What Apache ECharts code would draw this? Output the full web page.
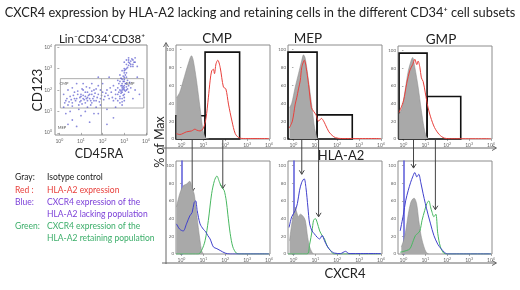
<!DOCTYPE html>
<html>
<head>
<meta charset="utf-8">
<title>CXCR4 expression by HLA-A2</title>
<script src="https://cdn.jsdelivr.net/npm/echarts@6/dist/echarts.min.js"></script>
<style>
  html, body { margin: 0; padding: 0; background: #fff; }
  #chart { width: 520px; height: 290px; }
</style>
</head>
<body>
<div id="chart"></div>
<script>
var FONT = 'Lato, "Open Sans", sans-serif';

// ---- dot plot Lin-CD34+CD38+ (log10 units: CD45RA, CD123) ----
var dotPoints = [
  [0.3,1.5],[0.4,1.3],[0.5,1.7],[0.6,1.4],[0.7,1.9],[0.8,1.6],[0.9,1.3],[1.0,1.8],[1.0,1.5],
  [1.1,2.0],[1.1,1.6],[1.2,1.4],[1.2,1.7],[1.3,1.9],[1.3,1.5],[1.4,1.6],[1.4,2.1],[1.5,1.8],
  [1.5,1.4],[1.6,1.7],[1.6,2.0],[1.7,1.5],[1.8,1.8],[1.8,2.2],[1.9,1.6],[2.0,1.9],[2.1,1.7],
  [2.2,2.0],[2.3,1.6],[2.4,1.9],[0.6,2.1],[0.8,2.3],[0.2,1.8],[0.9,1.1],[1.3,1.2],[1.7,1.2],
  [0.5,1.0],[1.1,2.3],[1.5,2.3],[2.0,2.3],[2.5,2.2],[2.6,1.8],[0.4,2.0],[1.9,1.3],[1.2,1.9],
  [0.7,1.6],[1.0,1.7],[1.4,1.8],[1.6,1.5],[1.3,1.65],[1.15,1.55],[0.95,1.45],[1.55,1.6],
  [0.35,1.6],[0.45,1.45],[0.55,1.55],[0.65,1.75],[0.75,1.5],[0.85,1.8],[0.95,1.65],[1.05,1.35],
  [1.1,1.75],[1.25,1.6],[1.35,1.75],[1.45,1.5],[1.5,1.95],[1.65,1.85],[1.75,1.65],[1.85,1.45],
  [1.95,1.75],[2.05,1.55],[2.15,1.85],[2.25,1.75],[2.35,2.1],[1.05,2.05],[0.85,1.95],[1.25,2.15],
  [0.6,1.25],[1.45,1.3],[2.45,1.65],[0.25,1.4],[1.7,2.05],[1.9,2.0],
  [2.7,1.5],[2.8,1.7],[2.9,1.9],[3.0,2.1],[2.9,2.2],[2.8,2.0],[3.0,1.8],[3.1,2.3],[2.9,2.5],
  [3.0,2.6],[2.8,2.4],[3.1,2.0],[2.7,2.1],[2.9,1.6],[3.0,2.4],[2.8,2.7],[3.0,2.8],[3.1,2.6],
  [2.9,2.9],[2.7,1.8],[2.6,2.0],[2.8,1.4],[3.2,2.2],[2.9,2.0],[3.0,2.0],[2.95,2.15],[2.85,1.95],
  [3.05,2.3],[2.75,2.3],[3.15,2.45],[2.6,1.6],[2.5,1.5],[3.2,1.9],[3.3,2.1],[2.9,1.3],[3.0,1.5],
  [3.1,2.8],[2.95,2.05],[3.0,2.2],[2.9,2.1],
  [2.85,1.85],[2.95,1.75],[3.05,1.95],[2.9,2.3],[3.0,2.5],[2.85,2.2],[2.95,2.4],[3.1,2.15],
  [2.8,1.6],[2.75,1.9],[3.05,2.7],[2.95,2.65],[2.85,2.55],[3.0,1.65],[2.9,1.45],[3.15,2.05],
  [2.7,2.45],[3.25,2.35],[3.0,2.9],[3.1,3.0],
  [3.0,3.0],[3.1,3.2],[3.2,3.3],[3.3,3.2],[3.4,3.4],[3.2,3.5],[3.3,3.1],[3.5,3.3],[3.1,3.4],
  [3.4,3.2],[3.6,3.1],[3.2,3.15],[3.0,3.3],[3.35,3.45],[3.5,3.5],[3.15,3.05],[3.05,2.95],
  [3.25,3.25],[3.3,3.35],[3.45,3.3],[3.2,3.4],[3.4,3.1],
  [0.3,0.9],[0.6,0.6],[1.0,0.8],[1.4,0.5],[0.8,0.3],[1.8,0.9],[2.2,1.1],[0.4,0.4],[1.2,1.0],
  [2.5,0.7],[2.2,0.4],[1.6,0.9],
  [3.5,2.0],[3.7,1.8],[3.4,1.6],[2.3,2.6],[1.8,2.6],[3.6,2.6],[2.6,1.2],[0.2,1.2]
];
// gate rectangle [x0, x1, y0, y1] and CMP/GMP split
var dotGate = [0.05, 3.9, 1.16, 2.53];
var dotSplit = 1.92;

var decades = [0, 1, 2, 3, 4];
var pctTicks = [0, 20, 40, 60, 80, 100];

// ---- HLA-A2 histograms (x in log10 decades, y in % of max) ----
var cmpIso = [[-0.23,46],[-0.08,52],[0.08,65],[0.31,84],[0.46,93],[0.54,88],[0.69,65],[0.85,35],[1.0,8],[1.12,1],[1.25,0]];
var cmpHla = [[-0.23,6],[-0.08,5],[0.23,8],[0.46,9],[0.62,11],[0.69,10],[0.85,9],[1.0,12],[1.12,23],[1.23,46],
  [1.31,65],[1.38,76],[1.46,78],[1.51,73],[1.58,84],[1.66,88],[1.77,80],[1.92,58],[2.03,56],[2.15,39],
  [2.31,20],[2.46,6],[2.62,1.5],[2.85,0.5],[4.0,0.5]];
var mepIso = [[-0.18,35],[-0.08,40],[0.08,58],[0.23,73],[0.38,88],[0.46,94],[0.54,90],[0.69,65],[0.85,35],[0.97,12],[1.08,1.5],[1.15,0]];
var mepHla = [[-0.2,12],[-0.05,20],[0.08,39],[0.15,46],[0.23,56],[0.31,65],[0.38,80],[0.5,88],[0.58,80],[0.69,61],
  [0.82,35],[0.92,31],[1.03,27],[1.15,20],[1.28,23],[1.38,20],[1.46,16],[1.62,8],[1.77,4],[1.92,1.5],[2.2,0.5],[4.0,0.5]];
var gmpIso = [[-0.2,28],[-0.07,35],[0.07,54],[0.22,77],[0.37,90],[0.42,92],[0.52,81],[0.67,59],[0.82,32],[0.94,13],[1.04,3],[1.15,0]];
var gmpHla = [[-0.2,30],[0,43],[0.15,63],[0.3,78],[0.42,84],[0.52,90],[0.61,84],[0.67,88],[0.75,81],[0.82,69],
  [0.9,65],[1.0,52],[1.12,36],[1.24,25],[1.42,13],[1.64,5],[1.87,1],[2.16,0.3],[4.0,0.3]];

// gates [x0, x1, height]
var cmpGates = [[-0.25, 1.08, 26], [1.08, 2.66, 97]];
var mepGates = [[-0.25, 1.08, 97], [1.08, 2.69, 27]];
var gmpGates = [[-0.2, 1.08, 97], [1.08, 2.62, 48]];

// ---- CXCR4 histograms ----
var cmpIso2 = [[-0.23,53],[-0.08,68],[0.08,77],[0.23,79],[0.38,82],[0.49,74],[0.58,68],[0.66,53],[0.77,30],[0.85,15],[0.92,4],[1.0,0]];
var cmpLack = [[-0.23,34],[-0.08,28],[0.08,26],[0.23,34],[0.38,43],[0.49,47],[0.58,58],[0.65,60],[0.72,49],[0.85,34],
  [1.0,28],[1.11,25],[1.2,21],[1.31,17],[1.46,8],[1.62,6],[1.77,4],[2.0,1],[2.23,0],[4.0,0]];
var cmpKeep = [[-0.25,0],[0.77,0],[0.92,4],[1.08,15],[1.23,38],[1.38,68],[1.51,83],[1.62,88],[1.74,81],[1.85,75],
  [1.95,72],[2.05,60],[2.12,45],[2.23,23],[2.35,8],[2.51,1],[2.69,0],[4.0,0]];
var mepIso2 = [[-0.18,15],[-0.08,34],[0,45],[0.08,53],[0.15,47],[0.23,42],[0.31,45],[0.43,43],[0.54,38],[0.65,19],[0.74,8],[0.85,2],[0.92,0]];
var mepLack = [[-0.2,30],[-0.08,42],[0.08,49],[0.18,57],[0.28,72],[0.38,81],[0.49,85],[0.57,75],[0.66,53],[0.74,34],
  [0.85,26],[0.95,23],[1.08,19],[1.2,17],[1.31,21],[1.42,15],[1.54,9],[1.69,4],[1.88,1],[2.15,0.5],[2.38,3],[2.54,0.5],[4.0,0.5]];
var mepKeep = [[-0.25,0],[0.62,0],[0.74,11],[0.85,26],[0.92,38],[1.0,40],[1.08,36],[1.2,26],[1.31,21],[1.42,17],
  [1.54,9],[1.69,4],[1.85,0],[4.0,0]];
var gmpIso2 = [[-0.1,8],[0,15],[0.1,26],[0.22,45],[0.33,58],[0.42,62],[0.49,63],[0.6,57],[0.7,38],[0.82,19],[0.94,8],[1.04,2],[1.15,0]];
var gmpLack = [[-0.15,26],[0,45],[0.1,60],[0.22,72],[0.33,81],[0.42,87],[0.52,92],[0.61,87],[0.7,90],[0.79,81],
  [0.9,68],[1.0,57],[1.12,45],[1.24,34],[1.39,21],[1.57,11],[1.72,6],[1.87,2],[2.01,0],[4.0,0]];
var gmpKeep = [[-0.15,2],[0.15,4],[0.3,6],[0.45,15],[0.55,21],[0.64,23],[0.75,26],[0.85,38],[0.97,49],[1.07,57],
  [1.16,60],[1.24,53],[1.31,47],[1.39,42],[1.48,45],[1.57,23],[1.69,8],[1.84,1],[2.01,0],[4.0,0]];

// arrows from gate to CXCR4 peak: [x decade, tip % of max]
var cmpArrows = [[0.49, 70], [1.89, 74]];
var mepArrows = [[0.38, 90], [1.15, 42]];
var gmpArrows = [[0.46, 97], [1.46, 50]];

var RED = '#e8403c', BLUE = '#4040cc', GREEN = '#48b860', GRAY = '#a9a9a9';

// panel layout: dot plot + 3 top + 3 bottom
var grids = [
  { left: 55, top: 45, width: 92, height: 90 },
  { left: 176, top: 45, width: 94, height: 94 },
  { left: 288, top: 45, width: 94, height: 94 },
  { left: 398, top: 46, width: 94, height: 93 },
  { left: 176, top: 161, width: 94, height: 93 },
  { left: 288, top: 161, width: 94, height: 93 },
  { left: 398, top: 161, width: 94, height: 93 }
].map(function (g) {
  return Object.assign({ show: true, borderColor: '#8c8c8c', borderWidth: 1, backgroundColor: 'rgba(0,0,0,0)' }, g);
});

var decadeLabel = {
  customValues: decades,
  margin: 3,
  formatter: function (v) { return '{b|10}{s|' + v + '}'; },
  rich: {
    b: { fontSize: 5, color: '#666', fontFamily: FONT },
    s: { fontSize: 3.5, color: '#666', fontFamily: FONT, padding: [0, 0, 3, 0] }
  }
};

function xAxisFor(i, min, max) {
  return {
    type: 'value', gridIndex: i, min: min, max: max,
    axisLine: { show: false }, splitLine: { show: false },
    axisTick: { show: true, customValues: decades, length: 2, lineStyle: { color: '#777', width: 0.6 } },
    axisLabel: decadeLabel
  };
}

function yAxisFor(i, lineColor) {
  return {
    type: 'value', gridIndex: i, min: 0, max: 105,
    axisLine: { show: !!lineColor, lineStyle: { color: lineColor, width: 1.5 } },
    splitLine: { show: false },
    axisTick: { show: true, customValues: pctTicks, length: 1.5, lineStyle: { color: '#777', width: 0.6 } },
    axisLabel: { customValues: pctTicks, fontSize: 4.5, color: '#666', margin: 2, fontFamily: FONT }
  };
}

var xAxes = [xAxisFor(0, -0.2, 4.05)];
var yAxes = [{
  type: 'value', gridIndex: 0, min: -0.1, max: 4.1,
  axisLine: { show: false }, splitLine: { show: false },
  axisTick: { show: true, customValues: decades, length: 2, lineStyle: { color: '#777', width: 0.6 } },
  axisLabel: decadeLabel
}];
for (var i = 1; i <= 6; i++) {
  xAxes.push(xAxisFor(i, -0.25, 4.05));
  yAxes.push(yAxisFor(i, i >= 4 ? '#5a5ad8' : null));
}

function histo(idx, data, color, fill, extra) {
  var s = {
    type: 'line', xAxisIndex: idx, yAxisIndex: idx, data: data,
    symbol: 'none', smooth: 0.3, silent: true,
    lineStyle: { color: color, width: fill ? 0.5 : 1 },
    z: fill ? 1 : 3
  };
  if (fill) s.areaStyle = { color: fill, opacity: 1 };
  return Object.assign(s, extra || {});
}

function gateArea(gates) {
  return {
    silent: true,
    itemStyle: { color: 'rgba(0,0,0,0)', borderColor: '#111', borderWidth: 1.6 },
    data: gates.map(function (g) { return [{ coord: [g[0], 0] }, { coord: [g[1], g[2]] }]; })
  };
}

var series = [
  {
    type: 'scatter', xAxisIndex: 0, yAxisIndex: 0, data: dotPoints, silent: true,
    symbolSize: 1.8, itemStyle: { color: '#3c3cc4', opacity: 0.6 },
    markArea: {
      silent: true,
      itemStyle: { color: 'rgba(0,0,0,0)', borderColor: '#999', borderWidth: 0.8 },
      data: [[{ coord: [dotGate[0], dotGate[2]] }, { coord: [dotGate[1], dotGate[3]] }]]
    },
    markLine: {
      silent: true, symbol: 'none', label: { show: false },
      lineStyle: { color: '#999', width: 0.8, type: 'solid' },
      data: [[{ coord: [dotSplit, dotGate[3]] }, { coord: [dotSplit, -0.1] }]]
    }
  },
  histo(1, cmpIso, '#888', GRAY),
  histo(1, cmpHla, RED, null, { markArea: gateArea(cmpGates) }),
  histo(2, mepIso, '#888', GRAY),
  histo(2, mepHla, RED, null, { markArea: gateArea(mepGates) }),
  histo(3, gmpIso, '#888', GRAY),
  histo(3, gmpHla, RED, null, { markArea: gateArea(gmpGates) }),
  histo(4, cmpIso2, '#888', GRAY),
  histo(4, cmpKeep, GREEN),
  histo(4, cmpLack, BLUE),
  histo(5, mepIso2, '#888', GRAY),
  histo(5, mepKeep, GREEN),
  histo(5, mepLack, BLUE),
  histo(6, gmpIso2, '#888', GRAY),
  histo(6, gmpKeep, GREEN),
  histo(6, gmpLack, BLUE)
];

function text(x, y, str, size, color, extra) {
  return Object.assign({
    type: 'text', x: x, y: y, silent: true,
    style: { text: str, fontSize: size, fill: color || '#222', fontFamily: FONT, textAlign: 'center', textVerticalAlign: 'middle' }
  }, extra || {});
}
function leftText(x, y, str, size, color) {
  return {
    type: 'text', x: x, y: y, silent: true,
    style: { text: str, fontSize: size, fill: color, fontFamily: FONT, textAlign: 'left', textVerticalAlign: 'middle' }
  };
}
function seg(x1, y1, x2, y2, color, w) {
  return { type: 'line', silent: true, shape: { x1: x1, y1: y1, x2: x2, y2: y2 }, style: { stroke: color || '#444', lineWidth: w || 1 } };
}
function head(points, color) {
  return { type: 'polyline', silent: true, shape: { points: points }, style: { stroke: color || '#444', lineWidth: 1, fill: null } };
}

var chart = echarts.init(document.getElementById('chart'));
chart.setOption({
  animation: false,
  grid: grids,
  xAxis: xAxes,
  yAxis: yAxes,
  series: series
});

var legendRows = [
  ['Gray:', 'Isotype control', '#222', 177],
  ['Red :', 'HLA-A2 expression', RED, 190],
  ['Blue:', 'CXCR4 expression of the', '#7b3fd8', 202],
  ['', 'HLA-A2 lacking population', '#7b3fd8', 214],
  ['Green:', 'CXCR4 expression of the', '#3cae6a', 226],
  ['', 'HLA-A2 retaining population', '#3cae6a', 238]
];

var g = [
  text(260, 13, 'CXCR4 expression by HLA-A2 lacking and retaining cells in the different CD34\u207A cell subsets', 12.8, '#222'),
  text(102, 39, 'Lin\u207BCD34\u207ACD38\u207A', 11.5, '#222'),
  text(38, 90, 'CD123', 13.5, '#222', { rotation: Math.PI / 2 }),
  text(99, 154, 'CD45RA', 12.5, '#222'),
  text(64, 84, 'CMP', 4, '#555'),
  text(130, 84, 'GMP', 4, '#555'),
  text(62, 128, 'MEP', 4, '#555'),
  text(217, 39, 'CMP', 13.5, '#222'),
  text(308, 39, 'MEP', 13.5, '#222'),
  text(441, 40, 'GMP', 13.5, '#222'),
  text(341, 156, 'HLA-A2', 13, '#222'),
  text(345, 274, 'CXCR4', 13, '#222'),
  text(160, 142, '% of Max', 12.5, '#222', { rotation: Math.PI / 2 }),
  // frame axes
  seg(166, 264, 166, 43, '#666', 1),
  head([[163.5, 47], [166, 42.5], [168.5, 47]], '#666'),
  seg(162, 148, 496, 148, '#666', 1),
  head([[492, 145.5], [496.5, 148], [492, 150.5]], '#666'),
  seg(162, 263, 496, 263, '#666', 1),
  head([[492, 260.5], [496.5, 263], [492, 265.5]], '#666')
];

legendRows.forEach(function (r) {
  if (r[0]) g.push(leftText(15, r[3], r[0], 8.5, r[2]));
  g.push(leftText(47, r[3], r[1], 8.5, r[2]));
});

// arrows: gate centre in the HLA-A2 panel down to the CXCR4 peak
[[1, 4, cmpArrows], [2, 5, mepArrows], [3, 6, gmpArrows]].forEach(function (p) {
  p[2].forEach(function (a) {
    var top = chart.convertToPixel({ xAxisIndex: p[0], yAxisIndex: p[0] }, [a[0], 0]);
    var tip = chart.convertToPixel({ xAxisIndex: p[1], yAxisIndex: p[1] }, [a[0], a[1]]);
    g.push(seg(top[0], top[1] + 1, top[0], tip[1], '#444', 1));
    g.push(head([[top[0] - 2.5, tip[1] - 4], [top[0], tip[1]], [top[0] + 2.5, tip[1] - 4]], '#444'));
  });
});

chart.setOption({ graphic: g });
</script>
</body>
</html>
